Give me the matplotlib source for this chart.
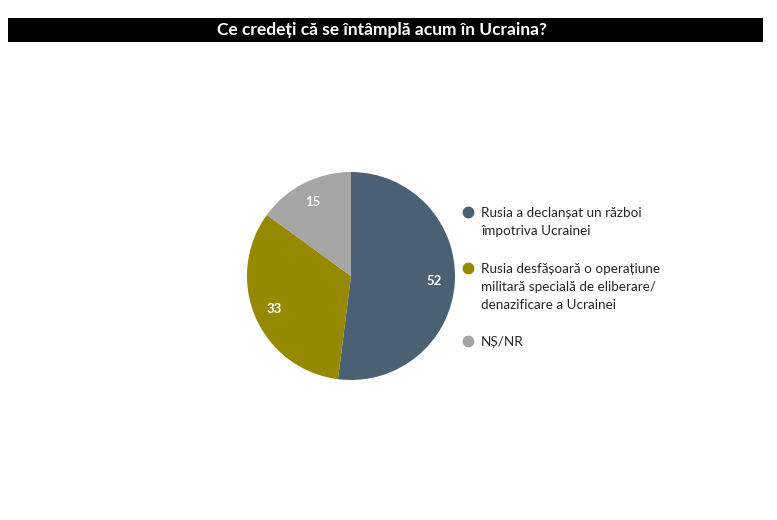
import matplotlib
matplotlib.use("Agg")
import matplotlib.pyplot as plt
import numpy as np
from matplotlib.lines import Line2D
from matplotlib.patches import Rectangle

# data
title = "Ce credeți că se întâmplă acum în Ucraina?"
labels = [
    "Rusia a declanșat un război\nîmpotriva Ucrainei",
    "Rusia desfășoară o operațiune\nmilitară specială de eliberare/\ndenazificare a Ucrainei",
    "NȘ/NR",
]
values = [52, 33, 15]
colors = ["#4b6073", "#948900", "#a5a5a5"]

W, H = 777, 520
plt.rcParams["font.family"] = ["Lato", "DejaVu Sans"]
fig = plt.figure(figsize=(W / 100, H / 100), dpi=100)

# title bar
fig.add_artist(Rectangle((8 / W, 1 - 42 / H), 755 / W, 24 / H,
                         transform=fig.transFigure, facecolor="black", edgecolor="none"))
fig.text(382 / W, 1 - 30 / H, title, color="white", fontsize=12.5, fontweight="bold",
         ha="center", va="center")

# pie
cx, cy, r = 351, 276, 104
ax = fig.add_axes([(cx - r) / W, (H - cy - r) / H, 2 * r / W, 2 * r / H])
wedges, _ = ax.pie(values, colors=colors, startangle=90, counterclock=False,
                   wedgeprops=dict(linewidth=0))
ax.set_xlim(-1, 1)
ax.set_ylim(-1, 1)
ax.set_aspect("equal")

for w, v in zip(wedges, values):
    ang = np.deg2rad((w.theta1 + w.theta2) / 2)
    ax.text(0.8 * np.cos(ang), 0.8 * np.sin(ang), str(v), color="white",
            fontsize=9.5, fontweight="bold", ha="center", va="center")

# legend
rows = [212, 268, 341]
for lab, col, y in zip(labels, colors, rows):
    fig.add_artist(Line2D([468 / W], [1 - y / H], marker="o", markersize=7.5,
                          color=col, transform=fig.transFigure))
    fig.text(481 / W, 1 - (y - 5) / H, lab, fontsize=9.7, color="#262626",
             ha="left", va="top", linespacing=1.62)

fig.savefig("out.png", dpi=100)
